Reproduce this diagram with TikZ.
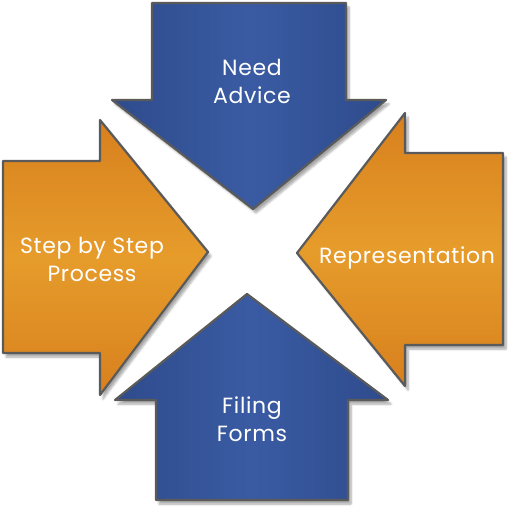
\documentclass[tikz,border=0pt]{standalone}
\usepackage{fontspec}
\setmainfont{Poppins}[LetterSpace=3]
\usetikzlibrary{shadows.blur}
\definecolor{bluedark}{HTML}{2E4B8C}
\definecolor{bluemid}{HTML}{3A5BA3}
\definecolor{orgdark}{HTML}{D8801E}
\definecolor{orgmid}{HTML}{E69C2B}
\definecolor{edgegray}{HTML}{5A5A5A}
\tikzset{
  arrowshape/.style={draw=edgegray, line width=2.2pt, line join=round,
    blur shadow={shadow xshift=3pt, shadow yshift=-4pt, shadow blur steps=6, shadow opacity=35}},
  bluearrow/.style={arrowshape, left color=bluedark, right color=bluedark, middle color=bluemid},
  orgarrow/.style={arrowshape, top color=orgdark, bottom color=orgdark, middle color=orgmid},
  label/.style={text=white, font=\fontsize{22}{28}\selectfont, align=center, inner sep=0pt}
}
\begin{document}
\begin{tikzpicture}[x=1pt,y=-1pt]
\useasboundingbox (0,0) rectangle (512,510);
% top arrow
\path[bluearrow] (152,3) -- (346,3) -- (346,100) -- (386,100) -- (253,209) -- (112,100) -- (152,100) -- cycle;
% left arrow
\path[orgarrow] (3,161) -- (100,161) -- (100,120) -- (208,252) -- (100,395) -- (100,353) -- (3,353) -- cycle;
% right arrow
\path[orgarrow] (503,153) -- (405,153) -- (405,113) -- (297,253) -- (405,386) -- (405,345) -- (503,345) -- cycle;
% bottom arrow
\path[bluearrow] (156,500) -- (348,500) -- (348,400) -- (388,400) -- (247,294) -- (115,400) -- (156,400) -- cycle;
\node[label] (need) at (252,81) {Need\\Advice};
\node[label] (step) at (92,259.5) {Step by Step\\Process};
\node[label] (rep) at (407,258) {Representation};
\node[label] (fil) at (252,419.5) {Filing\\Forms};
\end{tikzpicture}
\end{document}
